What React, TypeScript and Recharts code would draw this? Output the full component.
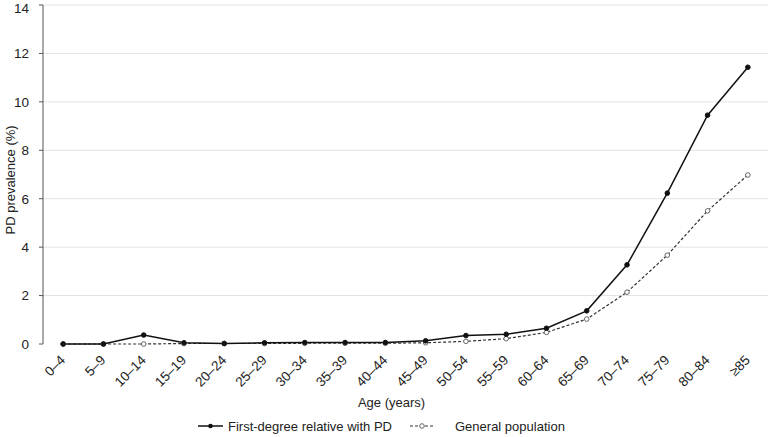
import React from "react";
import { LineChart, Line, XAxis, YAxis, CartesianGrid, Legend } from "recharts";

const ageGroups = [
  "0–4", "5–9", "10–14", "15–19", "20–24", "25–29", "30–34", "35–39", "40–44",
  "45–49", "50–54", "55–59", "60–64", "65–69", "70–74", "75–79", "80–84", "≥85",
];
const firstDegree = [
  0, 0, 0.37, 0.05, 0.02, 0.05, 0.06, 0.06, 0.06,
  0.13, 0.35, 0.4, 0.65, 1.37, 3.27, 6.23, 9.45, 11.43,
];
const generalPop = [
  0, 0, 0, 0.02, 0.02, 0.02, 0.03, 0.03, 0.03,
  0.05, 0.11, 0.22, 0.48, 1.03, 2.14, 3.67, 5.5, 6.98,
];
const yTicks = [0, 2, 4, 6, 8, 10, 12, 14];

const data = ageGroups.map((g, i) => ({
  pos: i + 0.5,
  age: g,
  first: firstDegree[i],
  general: generalPop[i],
}));
const boundaryTicks = ageGroups.map((_, i) => i).concat([ageGroups.length]);
const labelTicks = ageGroups.map((_, i) => i + 0.5);

const font = "Liberation Sans, Arial, sans-serif";

function AgeTick(props: any) {
  const { x, y, payload } = props;
  const idx = Math.floor(payload.value);
  const ax = x + 3;
  const ay = y + 9;
  return (
    <text
      x={ax}
      y={ay}
      textAnchor="end"
      transform={`rotate(-45, ${ax}, ${ay})`}
      fontSize={13.5}
      fill="#222"
      fontFamily={font}
    >
      {ageGroups[idx]}
    </text>
  );
}

function LegendBox() {
  return (
    <svg width={776} height={22} style={{ display: "block" }}>
      <g fontFamily={font} fontSize={13} fill="#222">
        <line x1={198} x2={223} y1={11} y2={11} stroke="#111" strokeWidth={1.5} />
        <circle cx={210.5} cy={11} r={2.3} fill="#111" />
        <text x={228} y={15.5}>First-degree relative with PD</text>
        <line x1={410} x2={434} y1={11} y2={11} stroke="#333" strokeWidth={1.2} strokeDasharray="3 2" />
        <circle cx={422} cy={11} r={2.3} fill="#fff" stroke="#666" />
        <text x={455} y={15.5}>General population</text>
      </g>
    </svg>
  );
}

export default function App() {
  return (
    <div style={{ position: "absolute", left: 0, top: 0, background: "#fff" }}>
      <LineChart
        width={776}
        height={437}
        data={data}
        margin={{ top: 5, right: 8, left: 0, bottom: 0 }}
      >
        <CartesianGrid vertical={false} stroke="#e2e2e2" horizontalValues={[2, 4, 6, 8, 10, 12, 14]} />
        <XAxis
          xAxisId="main"
          dataKey="pos"
          type="number"
          domain={[0, 18]}
          ticks={boundaryTicks}
          tick={false}
          tickSize={5}
          height={0}
          stroke="#555"
          allowDataOverflow
        />
        <XAxis
          xAxisId="labels"
          dataKey="pos"
          type="number"
          domain={[0, 18]}
          ticks={labelTicks}
          tick={<AgeTick />}
          axisLine={false}
          tickLine={false}
          interval={0}
          height={71}
          label={{
            value: "Age (years)",
            position: "insideBottom",
            offset: 8,
            dx: -14,
            fontSize: 13,
            fill: "#222",
            fontFamily: font,
          }}
        />
        <YAxis
          domain={[0, 14]}
          ticks={yTicks}
          width={43}
          stroke="#555"
          tickSize={4}
          tickMargin={10}
          tick={{ fontSize: 13.5, fill: "#222", fontFamily: font }}
          label={{
            value: "PD prevalence (%)",
            angle: -90,
            position: "insideLeft",
            offset: 10,
            dy: 60,
            fontSize: 13,
            fill: "#222",
            fontFamily: font,
          }}
        />
        <Legend verticalAlign="bottom" height={22} content={<LegendBox />} />
        <Line
          xAxisId="main"
          dataKey="general"
          stroke="#333"
          strokeWidth={1.2}
          strokeDasharray="3 2"
          dot={{ r: 2.3, fill: "#fff", stroke: "#666", strokeWidth: 1, strokeDasharray: "" }}
          isAnimationActive={false}
        />
        <Line
          xAxisId="main"
          dataKey="first"
          stroke="#111"
          strokeWidth={1.5}
          dot={{ r: 2.3, fill: "#111", stroke: "#111", strokeWidth: 1 }}
          isAnimationActive={false}
        />
      </LineChart>
    </div>
  );
}
